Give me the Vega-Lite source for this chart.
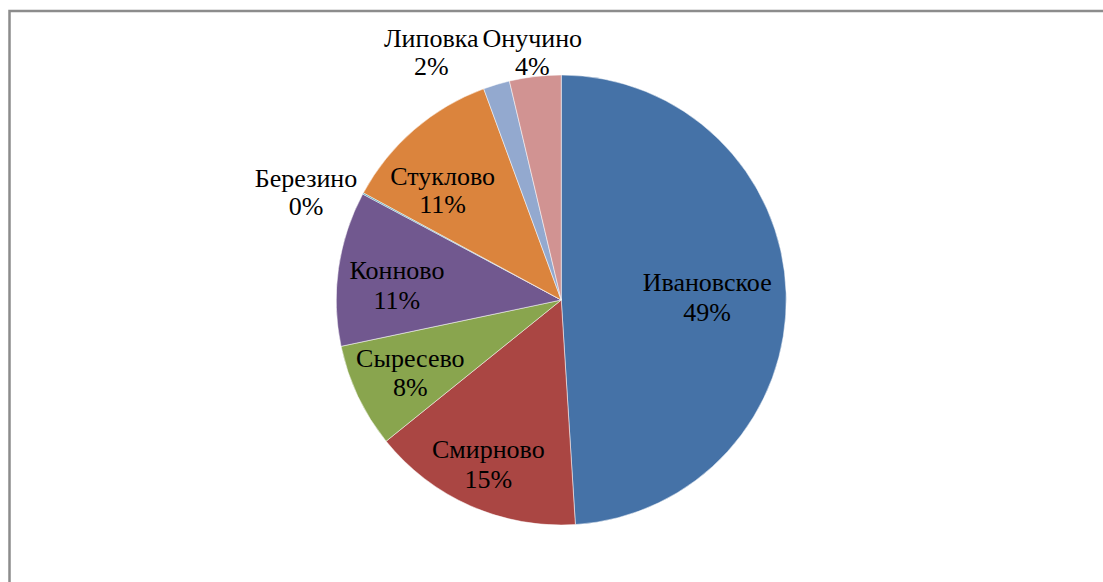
{
  "$schema": "https://vega.github.io/schema/vega-lite/v6.json",
  "autosize": {"type": "fit", "contains": "padding"},
  "width": 1103,
  "height": 582,
  "padding": {"left": 9.5, "top": 11, "right": -10, "bottom": -7},
  "background": "#ffffff",
  "view": {"stroke": "#8c8c8c", "strokeWidth": 2.5, "fill": "#ffffff"},
  "config": {"view": {"stroke": "#8c8c8c", "strokeWidth": 2.5}, "style": {"cell": {"stroke": "#8c8c8c", "strokeWidth": 2.5}}},
  "data": {"values": [
    {"idx": 1, "name": "Ивановское", "value": 49.0, "label": "Ивановское\n49%"},
    {"idx": 2, "name": "Смирново", "value": 15.2, "label": "Смирново\n15%"},
    {"idx": 3, "name": "Сыресево", "value": 7.5, "label": "Сыресево\n8%"},
    {"idx": 4, "name": "Конново", "value": 11.1, "label": "Конново\n11%"},
    {"idx": 5, "name": "Березино", "value": 0.1, "label": "Березино\n0%"},
    {"idx": 6, "name": "Стуклово", "value": 11.5, "label": "Стуклово\n11%"},
    {"idx": 7, "name": "Липовка", "value": 1.9, "label": "Липовка\n2%"},
    {"idx": 8, "name": "Онучино", "value": 3.7, "label": "Онучино\n4%"}
  ]},
  "encoding": {
    "theta": {"field": "value", "type": "quantitative", "stack": true},
    "order": {"field": "idx", "type": "quantitative"}
  },
  "layer": [
    {
      "mark": {"type": "arc", "radius": 225, "stroke": "#ffffff", "strokeWidth": 0.5},
      "encoding": {
        "color": {
          "field": "name", "type": "nominal", "legend": null,
          "scale": {
            "domain": ["Ивановское", "Смирново", "Сыресево", "Конново", "Березино", "Стуклово", "Липовка", "Онучино"],
            "range": ["#4572A7", "#AA4643", "#89A54E", "#71588F", "#4198AF", "#DB843D", "#93A9CF", "#D19392"]
          }
        }
      }
    },
    {
      "mark": {"type": "text", "radius": 146, "dy": -12, "font": "Liberation Serif", "fontSize": 26, "lineHeight": 30, "lineBreak": "\n", "fill": "#000000", "align": "center", "baseline": "middle"},
      "encoding": {"text": {"condition": {"test": "datum.name === 'Ивановское'", "field": "label"}, "value": ""}}
    },
    {
      "mark": {"type": "text", "radius": 181, "dy": -16, "font": "Liberation Serif", "fontSize": 26, "lineHeight": 30, "lineBreak": "\n", "fill": "#000000", "align": "center", "baseline": "middle"},
      "encoding": {"text": {"condition": {"test": "datum.name === 'Смирново'", "field": "label"}, "value": ""}}
    },
    {
      "mark": {"type": "text", "radius": 167, "dy": -13, "font": "Liberation Serif", "fontSize": 26, "lineHeight": 29, "lineBreak": "\n", "fill": "#000000", "align": "center", "baseline": "middle"},
      "encoding": {"text": {"condition": {"test": "datum.name === 'Сыресево'", "field": "label"}, "value": ""}}
    },
    {
      "mark": {"type": "text", "radius": 166, "dy": -6, "font": "Liberation Serif", "fontSize": 26, "lineHeight": 30, "lineBreak": "\n", "fill": "#000000", "align": "center", "baseline": "middle"},
      "encoding": {"text": {"condition": {"test": "datum.name === 'Конново'", "field": "label"}, "value": ""}}
    },
    {
      "mark": {"type": "text", "radius": 275, "dx": -13, "dy": 9, "font": "Liberation Serif", "fontSize": 26, "lineHeight": 28, "lineBreak": "\n", "fill": "#000000", "align": "center", "baseline": "middle"},
      "encoding": {"text": {"condition": {"test": "datum.name === 'Березино'", "field": "label"}, "value": ""}}
    },
    {
      "mark": {"type": "text", "radius": 166, "dx": -10, "dy": 3, "font": "Liberation Serif", "fontSize": 26, "lineHeight": 28, "lineBreak": "\n", "fill": "#000000", "align": "center", "baseline": "middle"},
      "encoding": {"text": {"condition": {"test": "datum.name === 'Стуклово'", "field": "label"}, "value": ""}}
    },
    {
      "mark": {"type": "text", "radius": 250, "dx": -58, "dy": -22, "font": "Liberation Serif", "fontSize": 26, "lineHeight": 28, "lineBreak": "\n", "fill": "#000000", "align": "center", "baseline": "middle"},
      "encoding": {"text": {"condition": {"test": "datum.name === 'Липовка'", "field": "label"}, "value": ""}}
    },
    {
      "mark": {"type": "text", "radius": 250, "dy": -13, "font": "Liberation Serif", "fontSize": 26, "lineHeight": 28, "lineBreak": "\n", "fill": "#000000", "align": "center", "baseline": "middle"},
      "encoding": {"text": {"condition": {"test": "datum.name === 'Онучино'", "field": "label"}, "value": ""}}
    }
  ]
}
